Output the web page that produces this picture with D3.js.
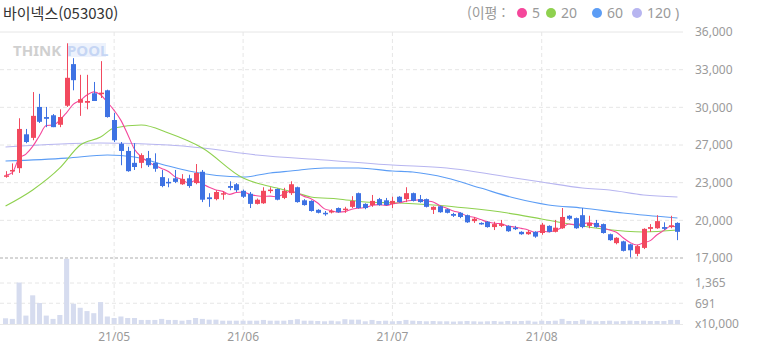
<!DOCTYPE html>
<html lang="ko">
<head>
    <title>바이넥스(053030)</title>
    <meta charset="utf-8"/>
    <script src="https://d3js.org/d3.v7.min.js"></script>
    <style>
        body { margin: 0; background: #fff; }
        text { font-family: "Noto Sans", "Noto Sans CJK KR", sans-serif; }
    </style>
</head>
<body>
<div id="viz">
    <svg width="758" height="355"></svg>
</div>

<script type="text/javascript">

    // trading days (2021)
    const dates = [
        "04-09", "04-12", "04-13", "04-14", "04-15", "04-16", "04-19", "04-20", "04-21", "04-22", "04-23",
        "04-26", "04-27", "04-28", "04-29", "04-30",
        "05-03", "05-04", "05-06", "05-07", "05-10", "05-11", "05-12", "05-13", "05-14", "05-17", "05-18",
        "05-20", "05-21", "05-24", "05-25", "05-26", "05-27", "05-28", "05-31",
        "06-01", "06-02", "06-03", "06-04", "06-07", "06-08", "06-09", "06-10", "06-11", "06-14", "06-15",
        "06-16", "06-17", "06-18", "06-21", "06-22", "06-23", "06-24", "06-25", "06-28", "06-29", "06-30",
        "07-01", "07-02", "07-05", "07-06", "07-07", "07-08", "07-09", "07-12", "07-13", "07-14", "07-15",
        "07-16", "07-19", "07-20", "07-21", "07-22", "07-23", "07-26", "07-27", "07-28", "07-29", "07-30",
        "08-02", "08-03", "08-04", "08-05", "08-06", "08-09", "08-10", "08-11", "08-12", "08-13", "08-17",
        "08-18", "08-19", "08-20", "08-23", "08-24", "08-25", "08-26", "08-27", "08-30", "08-31"
    ];

    const opens = [
        23850, 24300, 24550, 27400, 27100, 29700, 28850, 29000, 28200, 29800,
        33300, 30050, 30050, 30850, 30800, 31100, 28600, 26600, 26000, 25000,
        25000, 25400, 25000, 23800, 23400, 23700, 23200, 23700, 23300, 24250,
        22100, 21950, 22400, 23050, 23200, 22650, 22400, 21550, 21600, 22700,
        22800, 22050, 22450, 22950, 21850, 21800, 21050, 20800, 20900, 21200,
        21100, 21300, 22450, 21550, 21450, 21950, 21850, 21550, 22150, 21950,
        22450, 21950, 21950, 21050, 21350, 21100, 20700, 20800, 20600, 20100,
        19950, 20050, 19600, 19700, 19700, 19550, 19200, 19000, 19200, 19100,
        19700, 19200, 19500, 20550, 20350, 20600, 19700, 19950, 19850, 19000,
        18250, 18400, 18150, 17350, 17850, 19450, 19500, 19600, 19600, 19950
    ];
    const highs = [
        24300, 24950, 28750, 27850, 30950, 30800, 29700, 29100, 29500, 35050,
        33800, 32400, 32400, 31800, 33550, 31150, 29200, 26750, 26350, 26650,
        25800, 26000, 25800, 24400, 23700, 24400, 24050, 24000, 24900, 24400,
        22450, 22700, 22600, 23450, 23300, 22750, 22550, 22000, 22950, 22950,
        22850, 22900, 23450, 23000, 21950, 21850, 21100, 20950, 21100, 21250,
        21300, 22200, 22500, 21600, 22300, 22050, 22050, 22150, 22200, 22950,
        22500, 22300, 22000, 21350, 21400, 21150, 20800, 20850, 20650, 20450,
        20000, 20100, 20050, 20200, 19750, 19700, 19250, 19350, 19250, 19950,
        19750, 20200, 21200, 20600, 20400, 21200, 20550, 20200, 19900, 19050,
        18750, 18450, 18200, 18100, 19500, 19850, 20600, 20000, 20550, 20000
    ];
    const lows = [
        23750, 24000, 24150, 26650, 26900, 28350, 28000, 28000, 28000, 29700,
        31100, 28950, 29500, 30200, 30450, 28800, 26750, 24800, 24250, 24400,
        24550, 24650, 24250, 22950, 22950, 23300, 23150, 22900, 23200, 21700,
        21300, 21850, 21900, 22700, 22550, 22050, 21200, 21500, 21550, 22450,
        21850, 21950, 22300, 21650, 21400, 20900, 20750, 20550, 20750, 20800,
        20800, 21200, 21150, 21100, 21300, 21400, 21400, 21200, 21650, 21700,
        21750, 21650, 21250, 20700, 20800, 20750, 20450, 20350, 19950, 19950,
        19800, 19550, 19350, 19600, 19200, 19350, 18950, 18950, 18700, 18950,
        19150, 19150, 19450, 20200, 19450, 19500, 19500, 19550, 19050, 18450,
        18150, 17550, 17050, 17150, 17750, 19200, 19450, 19350, 19500, 18500
    ];
    const closes = [
        23950, 24400, 27850, 26750, 28950, 28450, 28700, 28000, 28850, 32150,
        31950, 30350, 30200, 30200, 30900, 28850, 26900, 26000, 24300, 24650,
        25650, 24800, 24500, 23050, 23350, 23400, 23650, 23050, 24150, 21900,
        21950, 22550, 22450, 22900, 22700, 22150, 21550, 21900, 22650, 22750,
        21900, 22650, 23200, 21700, 21450, 20950, 20800, 20750, 20950, 20850,
        21150, 21800, 21200, 21200, 21800, 21450, 21450, 21800, 21700, 22450,
        21800, 21700, 21300, 21300, 20850, 20800, 20550, 20450, 20000, 20300,
        19850, 19600, 19850, 19850, 19250, 19500, 19000, 19200, 18800, 19800,
        19200, 19550, 20450, 20300, 19500, 19600, 19950, 19600, 19100, 18500,
        18700, 17600, 17650, 18000, 19450, 19600, 20100, 19450, 19750, 19200
    ];
    // volume (x10,000)
    const volumes = [
        190, 170, 1380, 280, 955, 700, 280, 170, 300, 2170,
        675, 540, 430, 360, 730, 250, 200, 250, 200, 200,
        135, 135, 135, 170, 135, 135, 110, 135, 200, 170,
        145, 145, 110, 110, 110, 110, 110, 110, 135, 110,
        110, 110, 135, 160, 110, 110, 100, 90, 110, 90,
        160, 145, 145, 90, 135, 100, 110, 90, 100, 135,
        110, 100, 90, 100, 90, 90, 80, 90, 100, 90,
        80, 90, 100, 80, 100, 90, 100, 110, 80, 110,
        100, 110, 170, 100, 100, 145, 110, 90, 100, 110,
        90, 100, 110, 100, 110, 100, 100, 100, 135, 135
    ];

    // long moving averages: [candle index, value]
    const ma20 = [[0, 21370], [4, 22720], [8, 24570], [11, 26500], [14, 27170], [16, 27930], [20, 28180],
        [24, 27510], [29, 26250], [35, 23730], [37, 23300], [40, 22880], [43, 22460], [45, 22130],
        [49, 21960], [53, 21710], [58, 21620], [63, 21460], [68, 21200], [74, 20780], [79, 20280],
        [84, 19770], [88, 19440], [94, 19190], [99, 19350]];
    const ma60 = [[0, 25150], [9, 25400], [15, 25660], [19, 25490], [24, 24730], [27, 24310], [35, 23810],
        [39, 24150], [42, 24310], [47, 24570], [52, 24570], [57, 24310], [60, 24230], [65, 23730],
        [70, 22880], [75, 22040], [80, 21460], [85, 21200], [91, 20780], [99, 20360]];
    const ma120 = [[0, 26330], [14, 26670], [24, 26500], [29, 26250], [37, 25660], [47, 25240], [57, 24820],
        [65, 24570], [75, 23730], [79, 23390], [85, 22880], [89, 22720], [94, 22300], [99, 22130]];

    // axis ticks
    const priceTicks = [36000, 32833, 29667, 26500, 23333, 20167, 17000];
    const priceTickLabels = ["36,000", "33,000", "30,000", "27,000", "23,000", "20,000", "17,000"];
    const volumeTicks = [1365, 691, 0];
    const volumeTickLabels = ["1,365", "691", "x10,000"];

    const title = "바이넥스(053030)";
    const legendItems = [
        {label: "5", color: "#f5479b"},
        {label: "20", color: "#8fd14f"},
        {label: "60", color: "#5c9df5"},
        {label: "120", color: "#b7b5f0"}
    ];

    const red = "#f2495e", blue = "#3e72e3";
    const plotLeft = 0, plotRight = 683;

    const svg = d3.select("svg");

    // scales
    let x = d3.scaleBand().domain(dates).range([3, 680]).paddingInner(0.25);
    let y = d3.scaleLinear().domain([17000, 36000]).range([258, 32]);
    let yVol = d3.scaleLinear().domain([0, 1365]).range([324, 283]);
    const cx = d => x(d) + x.bandwidth() / 2;

    // first trading day of each month -> x ticks
    const monthTicks = dates.filter((d, i) => i > 0 && d.slice(0, 2) !== dates[i - 1].slice(0, 2));

    // title
    svg.append("text")
        .attr("x", 3).attr("y", 19)
        .style("font-size", "15px")
        .style("font-family", "'Noto Sans CJK KR'")
        .attr("fill", "#333")
        .text(title);

    // legend
    let lg = svg.append("g").attr("transform", "translate(467,18)")
        .style("font-size", "14px").attr("fill", "#9a9a9a");
    lg.append("text").attr("x", 0).attr("y", 0)
        .style("font-family", "'Noto Sans CJK KR'").text("(이평 :");
    const legendX = [55, 84, 130, 170];
    legendItems.forEach((it, i) => {
        lg.append("circle").attr("cx", legendX[i]).attr("cy", -5).attr("r", 5).attr("fill", it.color);
        lg.append("text").attr("x", legendX[i] + 10).attr("y", 0).text(it.label);
    });
    lg.append("text").attr("x", 208).attr("y", 0).text(")");

    // grid: vertical month lines
    svg.append("g").selectAll("line").data(monthTicks).enter()
        .append("line")
        .attr("x1", d => cx(d)).attr("x2", d => cx(d))
        .attr("y1", 32).attr("y2", 330)
        .attr("stroke", "#e6e6e6").attr("stroke-dasharray", "4,3");

    // grid: horizontal price lines
    svg.append("g").selectAll("line").data(priceTicks.slice(1, -1)).enter()
        .append("line")
        .attr("x1", plotLeft).attr("x2", plotRight)
        .attr("y1", d => y(d)).attr("y2", d => y(d))
        .attr("stroke", "#e6e6e6").attr("stroke-dasharray", "4,3");

    // grid: volume lines
    svg.append("g").selectAll("line").data(volumeTicks.slice(0, 2)).enter()
        .append("line")
        .attr("x1", plotLeft).attr("x2", plotRight)
        .attr("y1", d => yVol(d)).attr("y2", d => yVol(d))
        .attr("stroke", "#e6e6e6").attr("stroke-dasharray", "4,3");

    // top and separator lines
    svg.append("line").attr("x1", plotLeft).attr("x2", plotRight)
        .attr("y1", y(36000)).attr("y2", y(36000)).attr("stroke", "#e6e6e6");
    svg.append("line").attr("x1", plotLeft).attr("x2", plotRight)
        .attr("y1", y(17000)).attr("y2", y(17000))
        .attr("stroke", "#adadad").attr("stroke-dasharray", "3,2");
    svg.append("line").attr("x1", plotLeft).attr("x2", plotRight)
        .attr("y1", yVol(0) + 0.5).attr("y2", yVol(0) + 0.5).attr("stroke", "#e8e8e8");

    // watermark
    let wm = svg.append("g").style("font-weight", "bold").style("font-size", "15px")
        .style("font-family", "'DejaVu Sans'");
    wm.append("text").attr("x", 13).attr("y", 56).attr("fill", "#d0d0d0").text("THINK");
    wm.append("rect").attr("x", 67).attr("y", 43).attr("width", 39).attr("height", 14).attr("fill", "#edf2fc");
    wm.append("text").attr("x", 67).attr("y", 56).attr("fill", "#c6d6f4").text("POOL");

    // right axis: price
    let yAxis = d3.axisRight(y).tickValues(priceTicks).tickSize(0).tickPadding(0)
        .tickFormat((d, i) => priceTickLabels[i]);
    svg.append("g")
        .attr("transform", "translate(695,0)")
        .style("font-size", "12px")
        .call(yAxis)
        .call(g => g.select(".domain").remove())
        .call(g => g.selectAll("text").attr("fill", "#9a9a9a").style("font-family", "'Noto Sans'"));

    // right axis: volume
    let vAxis = d3.axisRight(yVol).tickValues(volumeTicks).tickSize(0).tickPadding(0)
        .tickFormat((d, i) => volumeTickLabels[i]);
    svg.append("g")
        .attr("transform", "translate(695,0)")
        .style("font-size", "12px")
        .call(vAxis)
        .call(g => g.select(".domain").remove())
        .call(g => g.selectAll("text").attr("fill", "#9a9a9a").style("font-family", "'Noto Sans'"));

    // bottom axis: months
    let xAxis = d3.axisBottom(x).tickValues(monthTicks).tickSize(0).tickPadding(0)
        .tickFormat(d => "21/" + d.slice(0, 2));
    svg.append("g")
        .attr("transform", "translate(0,332)")
        .style("font-size", "12px")
        .call(xAxis)
        .call(g => g.select(".domain").remove())
        .call(g => g.selectAll("text").attr("fill", "#9a9a9a").style("font-family", "'Noto Sans'"));

    // volume bars
    svg.append("g").selectAll("rect").data(volumes).enter()
        .append("rect")
        .attr("x", (d, i) => x(dates[i]))
        .attr("width", x.bandwidth())
        .attr("y", d => yVol(d))
        .attr("height", d => yVol(0) - yVol(d))
        .attr("fill", "#d6dcef");

    // moving averages
    let maLine = d3.line()
        .x(d => cx(dates[d[0]]))
        .y(d => y(d[1]))
        .curve(d3.curveMonotoneX);

    const ma5 = closes.map((c, i) => [i, d3.mean(closes.slice(Math.max(0, i - 4), i + 1))]);

    [[ma120, legendItems[3].color], [ma60, legendItems[2].color],
        [ma20, legendItems[1].color], [ma5, legendItems[0].color]].forEach(m => {
        svg.append("path")
            .attr("d", maLine(m[0]))
            .attr("fill", "none")
            .attr("stroke", m[1])
            .attr("stroke-width", 1.1);
    });

    // candles
    let candles = svg.append("g").selectAll("g").data(dates).enter()
        .append("g")
        .attr("fill", (d, i) => closes[i] >= opens[i] ? red : blue)
        .attr("stroke", (d, i) => closes[i] >= opens[i] ? red : blue);

    candles.append("line")
        .attr("x1", d => Math.round(cx(d)) + 0.5).attr("x2", d => Math.round(cx(d)) + 0.5)
        .attr("y1", (d, i) => y(highs[i]))
        .attr("y2", (d, i) => y(lows[i]))
        .attr("stroke-width", 1);

    candles.append("rect")
        .attr("stroke", "none")
        .attr("x", d => Math.round(cx(d)) - 2)
        .attr("width", 5)
        .attr("y", (d, i) => y(Math.max(opens[i], closes[i])))
        .attr("height", (d, i) => Math.max(1.5, Math.abs(y(opens[i]) - y(closes[i]))));

</script>
</body>
</html>
